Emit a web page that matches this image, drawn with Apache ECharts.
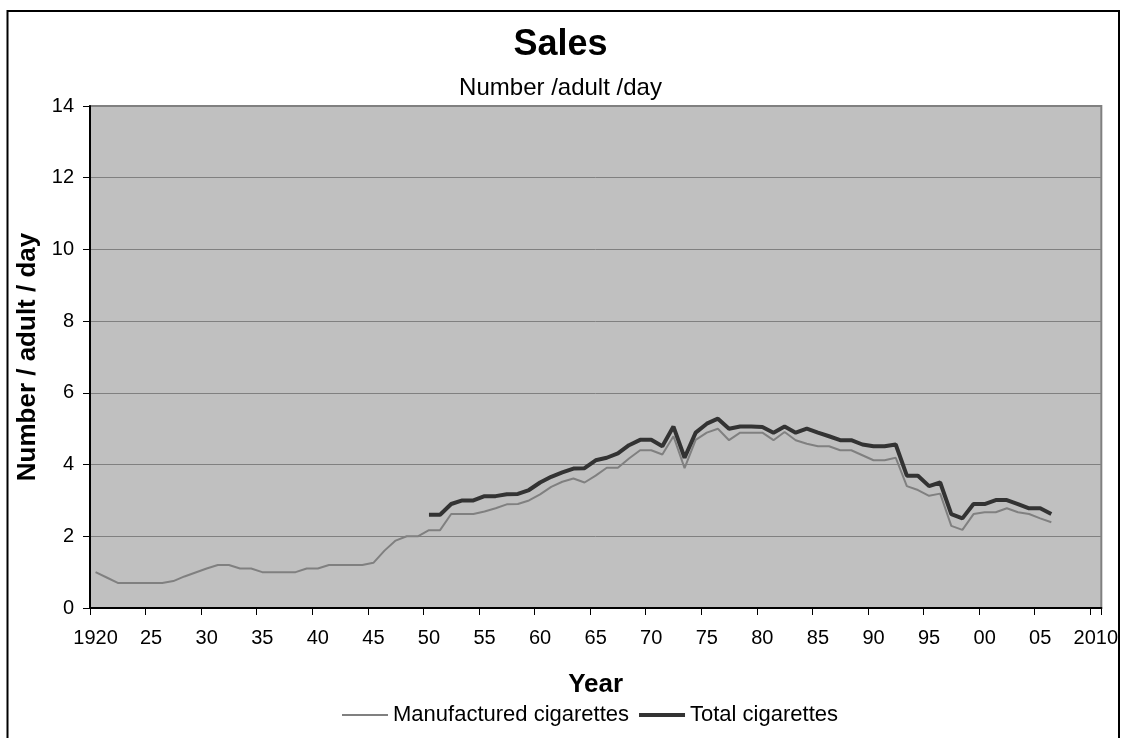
<!DOCTYPE html>
<html>
<head>
<meta charset="utf-8">
<script src="https://cdn.jsdelivr.net/npm/echarts@6/dist/echarts.min.js"></script>
<style>html,body{margin:0;padding:0;background:#fff}#c{width:1121px;height:738px}</style>
</head>
<body>
<div id="c"></div>
<script>
const firstYear = 1920, lastYear = 2010;
const years = [];
for (let y = firstYear; y <= lastYear; y++) years.push(String(y));

const tickLabels = ['1920','25','30','35','40','45','50','55','60','65','70','75','80','85','90','95','00','05','2010'];

const manufacturedStart = 1920;
const manufactured = [
  1.0, 0.85, 0.7, 0.7, 0.7, 0.7, 0.7, 0.75, 0.88, 0.99,
  1.1, 1.2, 1.2, 1.1, 1.1, 1.0, 1.0, 1.0, 1.0, 1.1,
  1.1, 1.2, 1.2, 1.2, 1.2, 1.26, 1.6, 1.88, 2.0, 2.0,
  2.17, 2.17, 2.62, 2.62, 2.62, 2.69, 2.78, 2.89, 2.9, 3.0,
  3.17, 3.38, 3.52, 3.61, 3.5, 3.69, 3.91, 3.91, 4.17, 4.4,
  4.4, 4.28, 4.79, 3.9, 4.69, 4.89, 5.0, 4.68, 4.89, 4.89,
  4.89, 4.68, 4.91, 4.68, 4.58, 4.51, 4.51, 4.4, 4.4, 4.26,
  4.12, 4.12, 4.19, 3.4, 3.29, 3.13, 3.19, 2.29, 2.18, 2.62,
  2.67, 2.67, 2.78, 2.67, 2.62, 2.5, 2.39
];

const totalStart = 1950;
const total = [
  2.6, 2.6, 2.9, 3.0, 3.0, 3.12, 3.12, 3.17, 3.18, 3.29,
  3.5, 3.66, 3.78, 3.89, 3.9, 4.12, 4.19, 4.31, 4.54, 4.69,
  4.69, 4.51, 5.06, 4.19, 4.89, 5.14, 5.28, 5.0, 5.06, 5.06,
  5.05, 4.89, 5.06, 4.89, 5.0, 4.89, 4.79, 4.68, 4.68, 4.56,
  4.51, 4.51, 4.56, 3.69, 3.69, 3.4, 3.5, 2.62, 2.5, 2.9,
  2.9, 3.01, 3.01, 2.9, 2.78, 2.78, 2.62
];

function place(start, values) {
  const out = years.map(() => null);
  values.forEach((v, i) => { out[start - firstYear + i] = v; });
  return out;
}

const FONT = '"Liberation Sans", Arial, sans-serif';
const chart = echarts.init(document.getElementById('c'), null, {renderer: 'canvas'});
chart.setOption({
  animation: false,
  backgroundColor: '#fff',
  textStyle: {fontFamily: FONT, color: '#000'},
  graphic: [{
    type: 'rect', z: 100, silent: true,
    shape: {x: 7.5, y: 11, width: 1111.5, height: 800},
    style: {fill: 'none', stroke: '#000', lineWidth: 2}
  }],
  title: [
    {text: 'Sales', left: 'center', top: 22,
     textStyle: {fontFamily: FONT, fontSize: 36, fontWeight: 'bold', color: '#000'}},
    {text: 'Number /adult /day', left: 'center', top: 71,
     textStyle: {fontFamily: FONT, fontSize: 24, fontWeight: 'normal', color: '#000'}}
  ],
  legend: {
    top: 699, left: 336, itemWidth: 46, itemHeight: 14, itemGap: 8,
    itemStyle: {opacity: 0, color: 'transparent', borderWidth: 0},
    textStyle: {fontFamily: FONT, fontSize: 22, color: '#000'},
    data: [
      {name: 'Manufactured cigarettes', lineStyle: {width: 2, color: '#808080'}},
      {name: 'Total cigarettes', lineStyle: {width: 4, color: '#333333'}}
    ]
  },
  grid: {
    left: 90, right: 17, top: 106, bottom: 130,
    show: true, backgroundColor: '#c0c0c0', borderColor: '#808080', borderWidth: 2
  },
  xAxis: {
    type: 'category', data: years, boundaryGap: true,
    axisLine: {show: true, lineStyle: {color: '#000', width: 2}},
    axisTick: {show: true, interval: 4, length: 7, lineStyle: {color: '#000', width: 1}},
    axisLabel: {interval: 4, fontFamily: FONT, fontSize: 20, color: '#000', margin: 20,
      formatter: (v, i) => tickLabels[Math.round(i / 5)]},
    splitLine: {show: false},
    name: 'Year', nameLocation: 'middle', nameGap: 64,
    nameTextStyle: {fontFamily: FONT, fontSize: 26, fontWeight: 'bold', color: '#000'}
  },
  yAxis: {
    type: 'value', min: 0, max: 14, interval: 2,
    axisLine: {show: true, lineStyle: {color: '#000', width: 2}},
    axisTick: {show: true, length: 7, lineStyle: {color: '#000', width: 1}},
    axisLabel: {fontFamily: FONT, fontSize: 20, color: '#000', margin: 16},
    splitLine: {show: true, lineStyle: {color: '#808080', width: 1}},
    name: 'Number / adult / day', nameLocation: 'middle', nameGap: 46,
    nameTextStyle: {fontFamily: FONT, fontSize: 26, fontWeight: 'bold', color: '#000'}
  },
  series: [
    {name: 'Manufactured cigarettes', type: 'line', data: place(manufacturedStart, manufactured),
     symbol: 'none', connectNulls: false,
     lineStyle: {color: '#808080', width: 2}, itemStyle: {color: '#808080'}},
    {name: 'Total cigarettes', type: 'line', data: place(totalStart, total),
     symbol: 'none', connectNulls: false,
     lineStyle: {color: '#333333', width: 4}, itemStyle: {color: '#333333'}}
  ]
});
</script>
</body>
</html>
